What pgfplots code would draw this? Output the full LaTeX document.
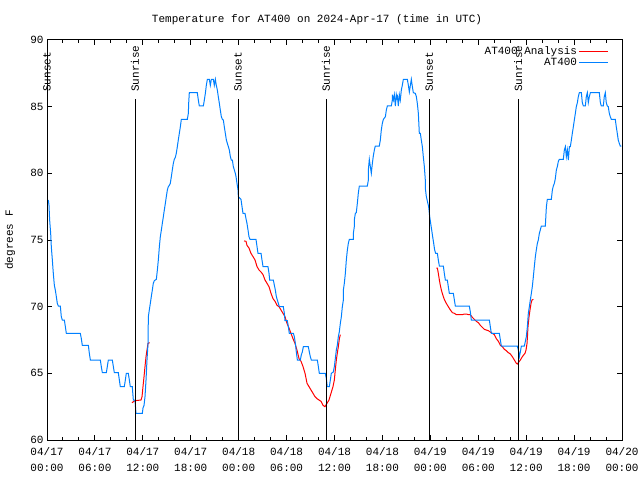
\documentclass[border=0pt]{standalone}
\usepackage{pgfplots}
\pgfplotsset{compat=1.18}
\usepackage{fontspec}
\setmainfont{Liberation Mono}
\definecolor{gblue}{RGB}{0,128,255}
\definecolor{gred}{RGB}{255,0,0}
\begin{document}
\begin{tikzpicture}
\begin{axis}[
  name=ax,
  scale only axis, width=575pt, height=400pt,
  xmin=0, xmax=72, ymin=60, ymax=90,
  clip=false,
  axis line style={black, line width=1pt},
  tick style={black, line width=1pt},
  major tick length=5pt, minor tick length=3pt,
  xtick={0,6,...,72}, minor x tick num=2,
  xticklabels={{04/17\\00:00},{04/17\\06:00},{04/17\\12:00},{04/17\\18:00},{04/18\\00:00},{04/18\\06:00},{04/18\\12:00},{04/18\\18:00},{04/19\\00:00},{04/19\\06:00},{04/19\\12:00},{04/19\\18:00},{04/20\\00:00}},
  x tick label style={align=center, font=\fontsize{11}{16}\selectfont},
  xticklabel shift=4pt,
  ytick={60,65,...,90},
  y tick label style={font=\fontsize{11}{13}\selectfont},
  /pgf/number format/assume math mode=true,
  unbounded coords=jump,
  legend style={at={(1,1)}, anchor=north east, xshift=-10pt, yshift=-3pt, draw=none, fill=none, font=\fontsize{11}{12}\selectfont, row sep=-1pt, nodes={inner sep=1.5pt}},
  legend cell align=right,
  legend plot pos=right,
  legend image code/.code={\draw[#1, line width=1.2pt] (0pt,0pt) -- (29pt,0pt);},
]
\addplot[gred, line width=1pt] coordinates {
(10.64,62.8) (11.02,62.95) (11.77,63.0) (11.90,63.25) (12.02,64.0) (12.15,64.75) (12.27,65.5) (12.40,66.25) (12.52,66.75) (12.65,67.25) (12.85,67.3)
(12.9,nan)
(24.67,74.93) (24.92,74.9) (25.04,74.6) (25.29,74.4) (25.54,74.0) (25.80,73.75) (26.05,73.5) (26.30,73.0) (26.55,72.75) (26.80,72.6) (27.05,72.4) (27.30,72.0) (27.55,71.75) (27.80,71.5) (28.05,71.0) (28.30,70.6) (28.55,70.4) (28.80,70.1) (29.05,70.0) (29.30,69.75) (29.55,69.5) (29.80,69.25) (30.05,68.75) (30.30,68.4) (30.55,68.0) (30.80,67.6) (31.05,67.25) (31.30,66.75) (31.56,66.1) (31.81,65.9) (32.06,65.5) (32.31,65.0) (32.56,64.25) (32.81,64.0) (33.06,63.75) (33.31,63.5) (33.56,63.25) (33.81,63.1) (34.06,63.0) (34.31,62.9) (34.56,62.6) (34.81,62.5) (35.06,62.75) (35.31,63.0) (35.56,63.5) (35.81,64.0) (35.98,64.5) (36.10,65.25) (36.23,66.0) (36.35,66.5) (36.48,67.0) (36.61,67.6) (36.73,67.9)
(36.8,nan)
(48.75,72.9) (48.88,72.9) (49.00,72.5) (49.13,72.0) (49.25,71.6) (49.38,71.25) (49.50,71.0) (49.63,70.75) (49.75,70.55) (50.00,70.25) (50.25,70.0) (50.51,69.75) (50.76,69.55) (51.01,69.5) (51.26,69.4) (51.51,69.4) (51.76,69.4) (52.01,69.4) (52.26,69.45) (52.51,69.45) (52.76,69.4) (53.01,69.4) (53.26,69.2) (53.51,69.05) (53.76,68.9) (54.01,68.8) (54.26,68.6) (54.51,68.45) (54.76,68.3) (55.01,68.25) (55.26,68.2) (55.51,68.1) (55.76,68.0) (56.01,67.9) (56.26,67.6) (56.52,67.4) (56.77,67.1) (57.02,67.0) (57.27,66.8) (57.52,66.7) (57.77,66.55) (58.02,66.45) (58.27,66.25) (58.52,66.0) (58.77,65.75) (58.89,65.7) (59.02,65.8) (59.27,66.0) (59.52,66.25) (59.85,66.5) (59.98,66.75) (60.11,67.25) (60.23,68.5) (60.36,69.25) (60.48,69.75) (60.61,70.25) (60.73,70.5) (60.90,70.55)
};
\addlegendentry{AT400 Analysis}
\addplot[gblue, line width=1pt] coordinates {
(0.17,78.0) (0.25,77.6) (0.33,76.5) (0.46,75.5) (0.54,74.5) (0.67,73.5) (0.79,72.5) (0.92,71.6) (1.04,71.25) (1.17,70.75) (1.29,70.25) (1.42,70.05) (1.67,70.05) (1.79,69.25) (1.92,69.0) (2.17,69.0) (2.30,68.5) (2.42,68.0) (4.17,68.0) (4.30,67.6) (4.42,67.1) (5.18,67.1) (5.30,66.5) (5.43,66.0) (6.68,66.0) (6.80,65.5) (6.93,65.05) (7.43,65.05) (7.55,65.5) (7.68,66.0) (8.18,66.0) (8.31,65.5) (8.43,65.05) (8.93,65.05) (9.06,64.5) (9.18,64.0) (9.68,64.0) (9.81,64.5) (9.93,65.0) (10.18,65.0) (10.31,64.5) (10.43,64.0) (10.68,64.0) (10.81,63.0) (11.02,63.0) (11.14,62.0) (11.94,62.0) (12.02,62.4) (12.15,62.6) (12.27,63.25) (12.40,64.5) (12.52,66.0) (12.65,67.25) (12.69,69.25)
(12.81,69.75) (12.94,70.25) (13.06,70.75) (13.19,71.25) (13.31,71.75) (13.44,71.95) (13.69,72.05) (13.82,72.75) (13.94,73.5) (14.07,74.5) (14.19,75.25) (14.32,75.75) (14.44,76.25) (14.57,76.75) (14.69,77.25) (14.82,77.75) (14.94,78.25) (15.07,78.75) (15.19,79.0) (15.32,79.1) (15.44,79.25) (15.57,79.75) (15.69,80.25) (15.82,80.75) (15.94,81.05) (16.07,81.2) (16.19,81.5) (16.32,82.0) (16.44,82.5) (16.57,83.0) (16.70,83.5) (16.82,84.05) (17.57,84.05) (17.70,84.5) (17.74,85.25) (17.82,86.05) (18.82,86.05) (18.95,85.5) (19.07,85.05) (19.58,85.05) (19.70,85.5) (19.83,86.0) (19.95,86.6) (20.08,87.05) (20.33,87.05) (20.45,86.6) (20.58,87.05) (20.83,87.05) (20.95,86.6) (21.08,87.05) (21.20,86.6) (21.33,86.25) (21.45,85.75) (21.58,85.25) (21.70,84.75) (21.83,84.25) (21.96,84.05) (22.08,84.0) (22.20,83.5) (22.33,83.0) (22.46,82.5) (22.58,82.25) (22.71,82.0) (22.83,81.75) (22.96,81.25) (23.08,81.0) (23.21,81.0) (23.33,80.5) (23.46,80.25) (23.58,80.0)
(23.67,79.75) (23.79,79.25) (23.92,78.75) (23.96,78.25) (24.29,78.05) (24.42,77.5) (24.54,77.0) (24.79,77.0) (24.92,76.6) (25.04,76.25) (25.17,75.75) (25.29,75.25) (25.42,75.05) (26.17,75.05) (26.30,74.5) (26.42,74.0) (26.80,74.0) (26.92,73.5) (27.05,73.0) (27.67,73.0) (27.80,72.5) (27.88,72.0) (28.34,72.0) (28.47,71.6) (28.59,71.25) (28.72,70.75) (28.84,70.5) (28.97,70.25) (29.09,70.0) (29.59,70.0) (29.72,69.5) (29.80,68.95) (30.09,68.95) (30.22,68.5) (30.34,68.0) (30.85,68.0) (30.97,67.75) (31.10,67.25) (31.22,66.6) (31.35,66.0) (31.72,66.0) (31.85,66.4) (31.97,66.6) (32.10,67.0) (32.72,67.0) (32.85,66.6) (32.97,66.25) (33.10,66.0) (33.85,66.0) (33.98,65.5) (34.10,65.0) (34.85,65.0) (34.98,64.6) (35.10,64.0) (35.35,64.0) (35.48,64.5) (35.60,65.0) (35.85,65.1) (35.98,65.5) (36.10,66.1) (36.23,66.75) (36.35,67.1) (36.48,67.75) (36.60,68.1) (36.73,68.75) (36.86,69.25)
(36.98,70.0) (37.11,70.5) (37.11,71.25) (37.23,71.75) (37.36,72.5) (37.48,73.5) (37.61,74.25) (37.73,74.75) (37.86,75.05) (38.36,75.05) (38.36,75.5) (38.48,76.0) (38.48,76.5) (38.61,77.0) (38.73,77.05) (38.86,77.75) (38.98,78.5) (39.11,79.05) (40.11,79.05) (40.24,79.5) (40.24,80.25) (40.36,81.05) (40.49,80.5) (40.61,80.0) (40.74,80.75) (40.86,81.3) (40.99,81.75) (41.11,82.05) (41.61,82.05) (41.74,82.5) (41.86,83.25) (41.99,83.75) (42.12,84.05) (42.37,84.25) (42.49,84.75) (42.62,85.05) (43.12,85.05) (43.24,85.5) (43.24,85.9) (43.37,85.5) (43.49,85.9) (43.62,85.05) (43.74,85.9) (43.87,85.5) (43.87,85.9) (43.99,85.05) (44.12,85.9) (44.24,85.5) (44.37,86.25) (44.49,86.6) (44.62,87.05) (45.12,87.05) (45.25,86.6) (45.37,86.1) (45.50,86.6) (45.62,87.05) (45.75,86.5) (45.87,86.05) (46.12,86.0) (46.25,85.75) (46.37,85.25) (46.50,84.5) (46.62,83.0) (46.75,83.0) (46.87,82.5) (47.00,82.0) (47.12,81.25) (47.25,80.5) (47.37,79.5) (47.37,78.9) (47.50,78.25)
(47.79,77.5) (47.92,76.75) (48.04,76.25) (48.17,75.75) (48.29,75.25) (48.42,74.75) (48.54,74.25) (48.67,74.0) (48.88,74.0) (49.00,73.5) (49.13,73.05) (49.63,73.05) (49.75,72.5) (49.88,72.0) (50.13,72.0) (50.25,71.5) (50.38,71.0) (50.88,71.0) (51.01,70.5) (51.13,70.05) (52.88,70.05) (53.01,69.6) (53.13,69.0) (55.39,69.0) (55.51,68.5) (55.64,68.0) (56.64,68.0) (56.77,67.5) (56.89,67.05) (58.89,67.05) (59.02,66.75) (59.15,66.25) (59.27,66.6) (59.40,67.05) (59.77,67.05) (59.90,67.4) (60.02,67.75) (60.15,68.5) (60.27,69.5) (60.40,70.0) (60.52,70.5) (60.65,71.0) (60.77,71.5) (60.90,72.25) (61.02,73.0) (61.15,73.75) (61.27,74.25) (61.40,74.75) (61.52,75.0) (61.65,75.5) (61.77,75.75) (61.90,76.05) (62.40,76.05) (62.53,77.5) (62.65,78.05) (63.15,78.05) (63.28,78.75) (63.40,79.05) (63.53,79.25) (63.65,79.6) (63.78,80.25) (63.90,80.5) (64.03,80.9) (64.15,81.05) (64.65,81.05) (64.78,81.75) (64.91,82.0) (65.03,81.25) (65.16,81.75) (65.28,81.0) (65.41,82.0) (65.53,82.0) (65.66,82.5) (65.78,83.0) (65.91,83.5) (66.03,84.0) (66.16,84.5) (66.28,85.0) (66.41,85.3) (66.53,85.75) (66.66,86.05) (66.91,86.05) (67.03,85.3) (67.16,85.05) (67.41,85.05) (67.53,85.75) (67.66,86.05) (67.78,85.3) (67.91,85.75) (68.04,86.05) (69.16,86.05) (69.29,85.3) (69.41,85.05) (69.66,85.05) (69.78,85.75) (69.91,86.05) (70.03,85.3) (70.16,85.05) (70.28,85.0) (70.41,84.5) (70.53,84.25) (70.66,84.05) (71.16,84.05) (71.28,83.5) (71.41,83.0) (71.53,82.5) (71.66,82.25) (71.78,82.05) (71.91,82.05)
};
\addlegendentry{AT400}
\addplot[black, line width=1pt, forget plot] coordinates {(0,60) (0,85.6) (0,nan) (23.93,60) (23.93,85.6) (23.93,nan) (47.86,60) (47.86,85.6)};
\addplot[black, line width=1pt, forget plot] coordinates {(11.02,60) (11.02,85.6) (11.02,nan) (34.94,60) (34.94,85.6) (34.94,nan) (59.0,60) (59.0,85.6)};
\node[rotate=90, anchor=west, inner sep=0pt, font=\fontsize{11}{13}\selectfont] at (axis cs:0,86.1) {Sunset};
\node[rotate=90, anchor=west, inner sep=0pt, font=\fontsize{11}{13}\selectfont] at (axis cs:23.93,86.1) {Sunset};
\node[rotate=90, anchor=west, inner sep=0pt, font=\fontsize{11}{13}\selectfont] at (axis cs:47.86,86.1) {Sunset};
\node[rotate=90, anchor=west, inner sep=0pt, font=\fontsize{11}{13}\selectfont] at (axis cs:11.02,86.1) {Sunrise};
\node[rotate=90, anchor=west, inner sep=0pt, font=\fontsize{11}{13}\selectfont] at (axis cs:34.94,86.1) {Sunrise};
\node[rotate=90, anchor=west, inner sep=0pt, font=\fontsize{11}{13}\selectfont] at (axis cs:59.0,86.1) {Sunrise};
\node[font=\fontsize{11}{13}\selectfont] at (rel axis cs:0.4696,1.05) {Temperature for AT400 on 2024-Apr-17 (time in UTC)};
\node[font=\fontsize{11}{13}\selectfont, rotate=90] at (rel axis cs:-0.0643,0.5) {degrees F};
\coordinate (bbSW) at (rel axis cs:-0.081739,-0.1);
\coordinate (bbNE) at (rel axis cs:1.031304,1.1);
\end{axis}
\pgfresetboundingbox
\path[use as bounding box] (bbSW) rectangle (bbNE);
\end{tikzpicture}
\end{document}
